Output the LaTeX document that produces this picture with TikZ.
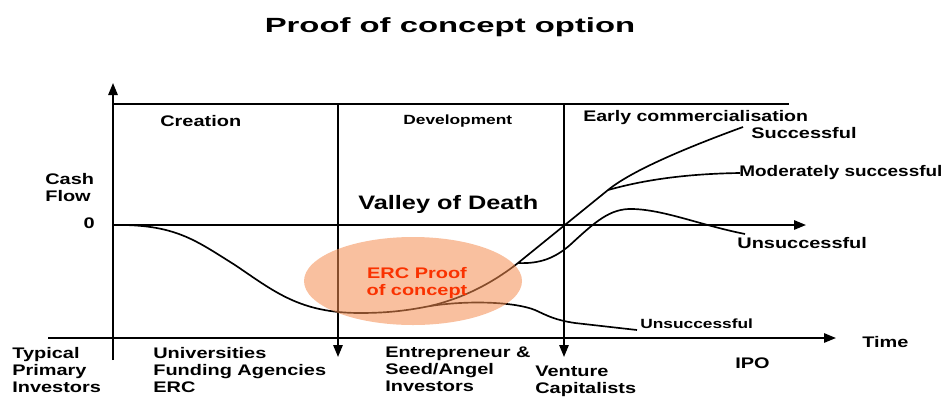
\documentclass[tikz,border=0pt]{standalone}
\usepackage{fontspec}
\setmainfont{Liberation Sans}
\usetikzlibrary{arrows.meta}
\definecolor{blob}{RGB}{244,140,80}
\definecolor{ercred}{RGB}{250,50,0}
\tikzset{
 lbl/.style={font=\bfseries\fontsize{11.5}{12.75}\selectfont, xscale=1.3, inner sep=0, align=left},
 sml/.style={lbl, font=\bfseries\fontsize{10}{12}\selectfont},
 axis/.style={black, line width=1.4pt, ->, >={Triangle[length=9pt,width=7pt]}},
 curve/.style={black, line width=1.25pt},
}
\begin{document}
\begin{tikzpicture}[x=0.75pt,y=-0.75pt]
\useasboundingbox (0,0) rectangle (952,404);
% frame
\coordinate (o) at (113,225);
\draw[axis] (113,360) -- (113,83);
\draw[axis] (48,338) -- (836,338);
\draw[axis] (o) -- (806,225);
\draw[black, line width=1.4pt] (113,104) -- (789,104);
\foreach \x in {338,564} \draw[axis] (\x,104) -- (\x,357);
% cash flow curves
\coordinate (bC) at (430,306);
\coordinate (bA) at (518,263);
\coordinate (bB) at (608,190);
\draw[curve] (o) .. controls (175,224) and (195,240) .. (235,265) .. controls (275,292) and (300,313) .. (360,313) .. controls (390,313) and (410,310) .. (bC) .. controls (460,299) and (490,285) .. (bA) -- (bB) .. controls (630,172) and (680,150) .. (743,127);
\draw[curve] (bB) .. controls (630,184) and (670,174) .. (740,173);
\draw[curve] (bA) .. controls (540,264) and (555,258) .. (570,245) .. controls (595,222) and (610,208) .. (633,209) .. controls (665,210) and (700,225) .. (745,234);
\draw[curve] (bC) .. controls (470,300) and (515,302) .. (535,310) .. controls (548,316) and (555,320) .. (575,323) -- (637,330);
\fill[blob, fill opacity=0.55] (413,281) ellipse [x radius=109, y radius=44];
% labels
\node[lbl, anchor=base, font=\bfseries\fontsize{15.4}{18}\selectfont, xscale=1.6/1.3] (title) at (450,32) {Proof of concept option};
\node[lbl, anchor=base west] (cre) at (160,126) {Creation};
\node[sml, anchor=base west] (dev) at (403,124) {Development};
\node[lbl, anchor=base west, font=\bfseries\fontsize{14.6}{16}\selectfont] (vod) at (358,209) {Valley of Death};
\node[lbl, anchor=base west, xscale=0.98] (early) at (583,121) {Early commercialisation};
\node[lbl, anchor=base west] (succ) at (751,138) {Successful};
\node[lbl, anchor=base west, xscale=0.95] (mod) at (739,176) {Moderately successful};
\node[lbl, anchor=base west] (uns) at (737,248) {Unsuccessful};
\node[sml, anchor=base west] (unsb) at (640,328) {Unsuccessful};
\node[lbl, anchor=base west] (time) at (862,347) {Time};
\node[lbl, anchor=base west] (ipo) at (735,368) {IPO};
\node[lbl, anchor=base east] (zero) at (95,228) {0};
\node[lbl, anchor=north west] (cash) at (45,173) {Cash\\Flow};
\node[lbl, anchor=north west] (typ) at (12,347) {Typical\\Primary\\Investors};
\node[lbl, anchor=north west] (univ) at (153,347) {Universities\\Funding Agencies\\ERC};
\node[lbl, anchor=north west] (entr) at (385,347) {Entrepreneur \&\\Seed/Angel\\Investors};
\node[lbl, anchor=north west] (vc) at (535,366) {Venture\\Capitalists};
\node[lbl, ercred, align=center, anchor=north] (erc) at (417,267) {ERC Proof\\of concept};
\end{tikzpicture}
\end{document}
